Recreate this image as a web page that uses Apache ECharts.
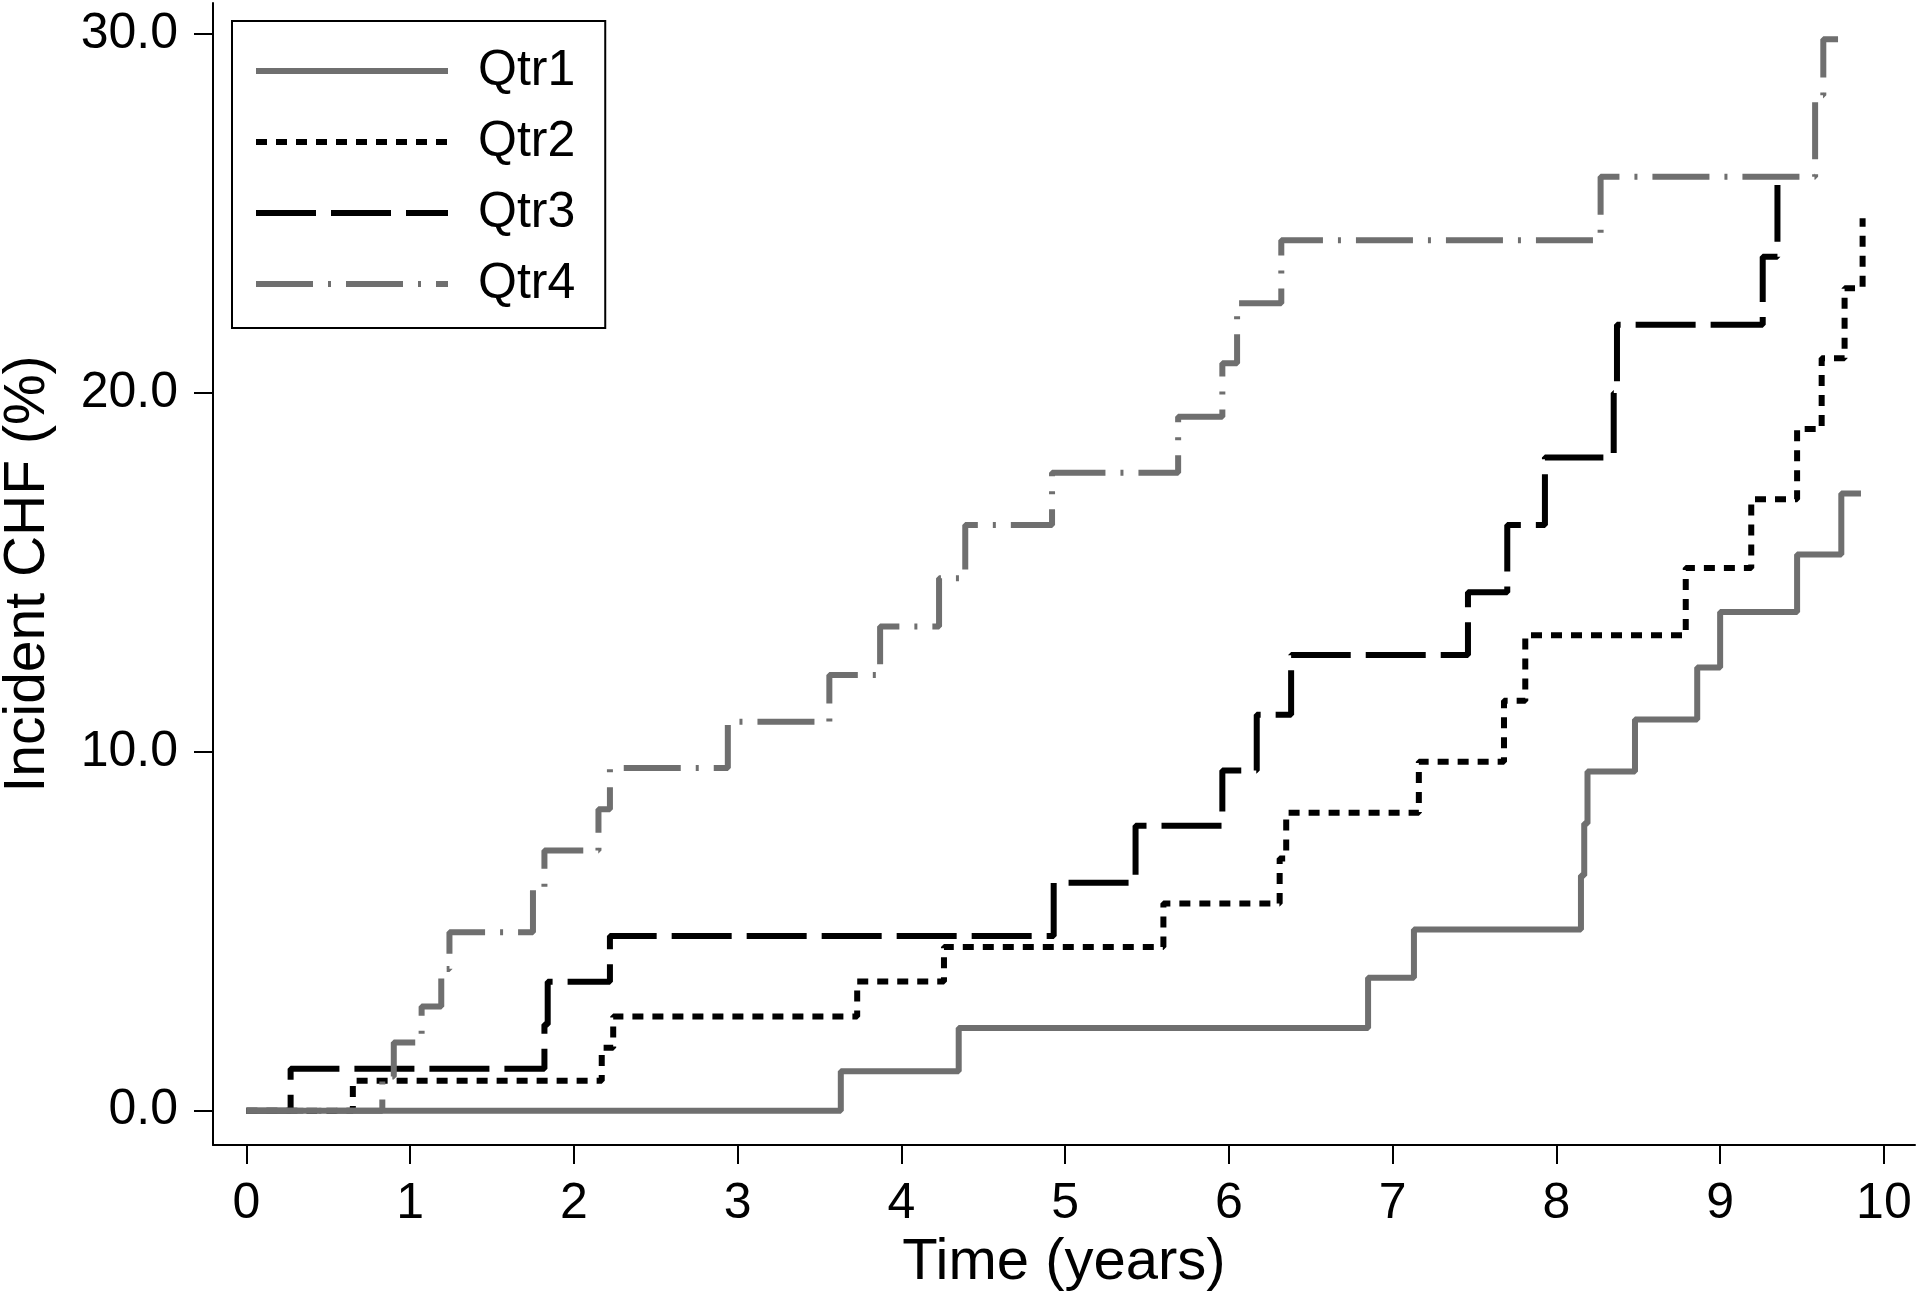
<!DOCTYPE html>
<html>
<head>
<meta charset="utf-8">
<script src="https://cdn.jsdelivr.net/npm/echarts@6/dist/echarts.min.js"></script>
<style>
  html, body { margin: 0; padding: 0; background: #ffffff; }
  #chart { width: 1920px; height: 1297px; }
</style>
</head>
<body>
<div id="chart"></div>
<script>
// ---- Data (time in years, cumulative incident CHF in %) ----
const seriesNames = ['Qtr1', 'Qtr2', 'Qtr3', 'Qtr4'];

const qtr1Times  = [0, 3.63, 4.35, 6.85, 7.13, 8.15, 8.17, 8.19, 8.48, 8.86, 9.00, 9.47, 9.74, 9.86];
const qtr1Values = [0, 1.10, 2.30, 3.70, 5.05, 6.55, 8.00, 9.45, 10.90, 12.35, 13.90, 15.50, 17.20, 17.20];

const qtr2Times  = [0, 0.65, 2.17, 2.24, 3.73, 4.26, 5.60, 6.31, 6.35, 7.16, 7.68, 7.81, 8.79, 9.19, 9.47, 9.62, 9.76, 9.87];
const qtr2Values = [0, 0.83, 1.75, 2.62, 3.60, 4.56, 5.77, 7.03, 8.30, 9.72, 11.42, 13.25, 15.12, 17.04, 19.00, 20.97, 22.92, 24.87];

const qtr3Times  = [0, 0.27, 1.82, 1.84, 2.22, 4.93, 5.43, 5.96, 6.17, 6.38, 7.46, 7.70, 7.93, 8.35, 8.37, 9.26, 9.35];
const qtr3Values = [0, 1.17, 2.40, 3.59, 4.87, 6.35, 7.94, 9.48, 11.03, 12.70, 14.45, 16.32, 18.20, 20.00, 21.90, 23.80, 25.80];

const qtr4Times  = [0, 0.83, 0.90, 1.07, 1.19, 1.24, 1.75, 1.82, 2.15, 2.22, 2.94, 3.56, 3.87, 4.23, 4.39, 4.92, 5.69, 5.96, 6.05, 6.32, 8.27, 9.58, 9.63, 9.72];
const qtr4Values = [0, 0.95, 1.90, 2.90, 3.95, 4.97, 6.19, 7.25, 8.40, 9.55, 10.84, 12.14, 13.49, 14.84, 16.32, 17.78, 19.34, 20.83, 22.50, 24.26, 26.03, 28.30, 29.86, 29.86];

const xTicks = [0, 1, 2, 3, 4, 5, 6, 7, 8, 9, 10];
const yTicks = [0, 10, 20, 30];

// ---- Build ----
function pairs(t, v) { return t.map((x, i) => [x, v[i]]); }

const FONT = "'Liberation Sans', Arial, sans-serif";
const GRAY = '#6f6f6f';

const chart = echarts.init(document.getElementById('chart'), null, { renderer: 'canvas' });

const option = {
  animation: false,
  backgroundColor: '#ffffff',
  textStyle: { fontFamily: FONT, color: '#000' },
  grid: { left: 213, right: 5, top: 3, bottom: 152, containLabel: false, outerBoundsMode: 'none' },
  legend: {
    orient: 'vertical',
    left: 232,
    top: 21,
    padding: [25, 30, 19, 21],
    borderColor: '#000',
    borderWidth: 2,
    itemWidth: 192,
    itemHeight: 20,
    itemGap: 21,
    selectedMode: false,
    itemStyle: { opacity: 0 },
    lineStyle: { width: 6 },
    textStyle: { fontFamily: FONT, fontSize: 50, lineHeight: 50, color: '#000', padding: [0, 0, 0, 25] },
    data: seriesNames
  },
  xAxis: {
    type: 'value',
    min: -0.204,
    max: 10.19,
    axisLine: { show: true, onZero: false, lineStyle: { color: '#000', width: 2 } },
    axisTick: { show: true, length: 19, lineStyle: { color: '#000', width: 2 }, customValues: xTicks },
    axisLabel: { customValues: xTicks, fontSize: 50, fontFamily: FONT, color: '#000', margin: 34 },
    splitLine: { show: false },
    name: 'Time (years)',
    nameLocation: 'middle',
    nameGap: 80,
    nameTextStyle: { fontSize: 58, fontFamily: FONT, color: '#000' }
  },
  yAxis: {
    type: 'value',
    min: -0.958,
    max: 30.87,
    axisLine: { show: true, onZero: false, lineStyle: { color: '#000', width: 2 } },
    axisTick: { show: true, length: 19, lineStyle: { color: '#000', width: 2 }, customValues: yTicks },
    axisLabel: { customValues: yTicks, fontSize: 50, fontFamily: FONT, color: '#000', margin: 35,
                 formatter: v => v.toFixed(1) },
    splitLine: { show: false },
    name: 'Incident CHF (%)',
    nameLocation: 'middle',
    nameGap: 156,
    nameTextStyle: { fontSize: 57, fontFamily: FONT, color: '#000' }
  },
  series: [
    {
      name: 'Qtr1', type: 'line', step: 'end', symbol: 'none', z: 5,
      data: pairs(qtr1Times, qtr1Values),
      lineStyle: { color: GRAY, width: 6, type: 'solid', cap: 'butt' },
      itemStyle: { color: GRAY }
    },
    {
      name: 'Qtr2', type: 'line', step: 'end', symbol: 'none', z: 3,
      data: pairs(qtr2Times, qtr2Values),
      lineStyle: { color: '#000', width: 6, type: [11, 9], cap: 'butt' },
      itemStyle: { color: '#000' }
    },
    {
      name: 'Qtr3', type: 'line', step: 'end', symbol: 'none', z: 3,
      data: pairs(qtr3Times, qtr3Values),
      lineStyle: { color: '#000', width: 6, type: [60, 15], cap: 'butt' },
      itemStyle: { color: '#000' }
    },
    {
      name: 'Qtr4', type: 'line', step: 'end', symbol: 'none', z: 4,
      data: pairs(qtr4Times, qtr4Values),
      lineStyle: { color: GRAY, width: 6, type: [57, 15, 3, 15], cap: 'butt' },
      itemStyle: { color: GRAY }
    }
  ]
};

chart.setOption(option);
</script>
</body>
</html>
